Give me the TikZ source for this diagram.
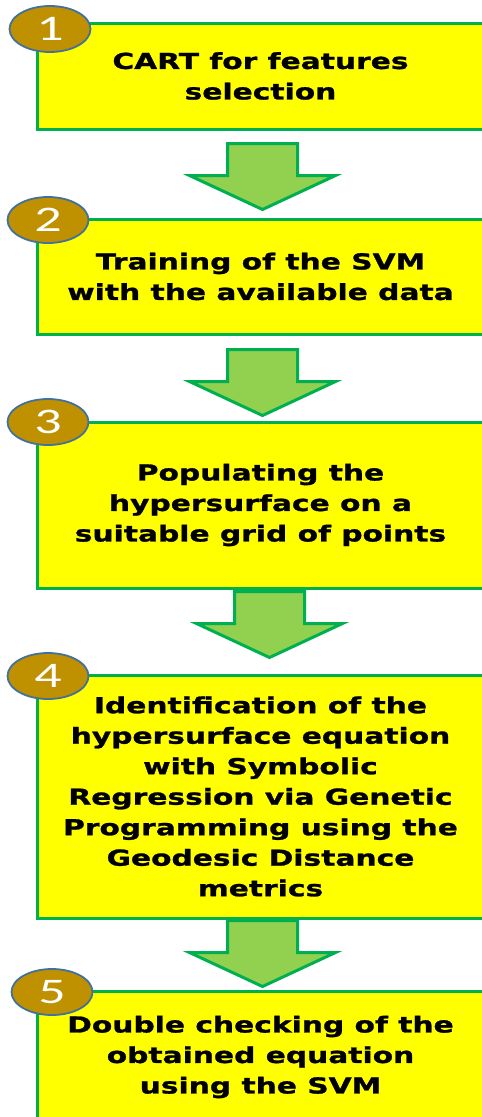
\documentclass[tikz,border=0pt]{standalone}
\usepackage{fontspec}
\usetikzlibrary{shapes.geometric,calc}
\newfontfamily\stepfont[FakeStretch=1.35,FakeBold=1.2]{DejaVu Sans Bold}
\newfontfamily\numfont[FakeStretch=1.5]{Carlito}
\definecolor{boxyellow}{RGB}{255,255,0}
\definecolor{boxgreen}{RGB}{0,176,80}
\definecolor{arrowgreen}{RGB}{146,208,80}
\definecolor{badgegold}{RGB}{191,144,0}
\definecolor{badgeblue}{RGB}{65,113,156}
% block arrow hanging from a top-centre coordinate
\newcommand\flowarrow[1]{%
  \draw[flowarr] (#1) ++(-35,0) -- ++(70,0) -- ++(0,32) -- ++(38,0)
    -- ++(-73,34) -- ++(-73,-34) -- ++(38,0) -- cycle;}

\begin{document}
\begin{tikzpicture}[
  x=1pt,y=-1pt,
  stepbox/.style={draw=boxgreen,fill=boxyellow,line width=3pt,minimum width=447pt,
                  inner sep=0pt,align=center,font=\stepfont\fontsize{22}{30.5}\selectfont},
  badge/.style={ellipse,draw=badgeblue,fill=badgegold,line width=1.8pt,
                minimum width=81pt,minimum height=46pt,inner sep=0pt,text=white,
                font=\numfont\fontsize{36}{36}\selectfont},
  flowarr/.style={draw=boxgreen,fill=arrowgreen,line width=3pt,line join=miter}
]
\path[use as bounding box,clip] (0,0) rectangle (482,1117);
% steps
\node[stepbox,minimum height=106pt] (b1) at (260.5,76)
  {CART for features\\selection};
\node[stepbox,minimum height=115pt] (b2) at (260.5,276.5)
  {Training of the SVM\\with the available data};
\node[stepbox,minimum height=166pt] (b3) at (260.5,505)
  {Populating the\\hypersurface on a\\suitable grid of points};
\node[stepbox,minimum height=243pt] (b4) at (260.5,796.5)
  {Identification of the\\hypersurface equation\\with Symbolic\\Regression via Genetic\\Programming using the\\Geodesic Distance\\metrics};
\node[stepbox,minimum height=132pt] (b5) at (260.5,1057)
  {Double checking of the\\obtained equation\\using the SVM};
% arrows between steps
\coordinate (a1) at ($(b1.south)+(2,13)$);
\coordinate (a2) at ($(b2.south)+(2,14)$);
\coordinate (a3) at ($(b3.south)+(9,2)$);
\coordinate (a4) at ($(b4.south)+(2,1)$);
\flowarrow{a1}
\flowarrow{a2}
\flowarrow{a3}
\flowarrow{a4}
% numbered badges
\node[badge] (e1) at (50,29)  {1};
\node[badge] (e2) at (48,220) {2};
\node[badge] (e3) at (48,422) {3};
\node[badge] (e4) at (48,676) {4};
\node[badge] (e5) at (52,992) {5};
\end{tikzpicture}
\end{document}
